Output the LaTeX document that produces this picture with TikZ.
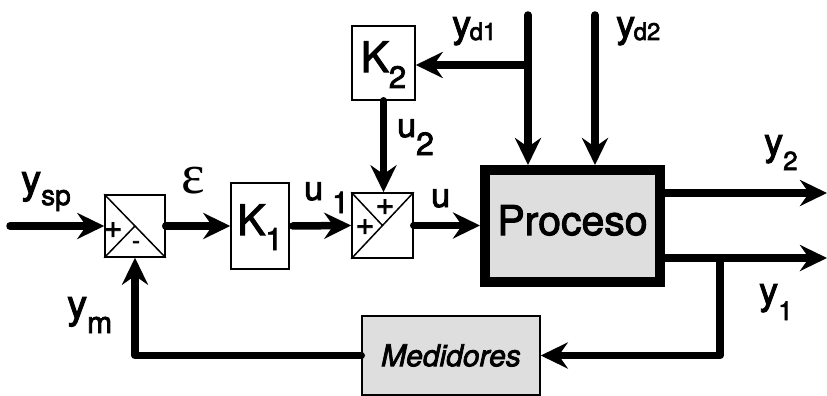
\documentclass[tikz,border=0pt]{standalone}
\usepackage{fontspec}
\setmainfont{TeX Gyre Heros}[FakeBold=2.5]
\newfontfamily\grk{Liberation Serif}
\usetikzlibrary{arrows.meta}
\newcommand\sbx[3]{\raisebox{-#1pt}[0pt][0pt]{\fontsize{#2}{#2}\selectfont #3}}
\newcommand\fs[1]{\fontsize{#1}{#1}\selectfont}
\definecolor{boxgray}{RGB}{222,222,222}
\begin{document}
\begin{tikzpicture}[x=1pt,y=-1pt,
  sig/.style={line width=7.5pt, line join=round, line cap=round,
    -{Stealth[length=27pt,width=26pt,inset=9pt]}},
  blk/.style={draw, line width=1.5pt, inner sep=0},
  thin/.style={line width=1.5pt},
  lbl/.style={inner sep=0, anchor=base west},
  sgn/.style={inner sep=0, font=\fs{32}},
]
\useasboundingbox (0,0) rectangle (827,396);

% blocks
\node[blk, minimum width=60pt, minimum height=62pt] (s1) at (135,226) {};
\draw[thin] (s1.north west) -- (s1.south east) (s1.south west) -- (s1.center);
\node[sgn] (s1p) at (113,230) {+};
\node[sgn, font=\fs{24}] (s1m) at (136,245) {-};

\node[blk, minimum width=61pt, minimum height=65pt] (s2) at (382.5,225.5) {};
\draw[thin] (s2.south west) -- (s2.north east) (s2.north west) -- (s2.center);
\node[sgn] (s2t) at (385,207) {+};
\node[sgn] (s2l) at (365,227) {+};

\node[blk, minimum width=58pt, minimum height=86pt, font=\fs{42},
  text height=30pt, text depth=12pt] (k1) at (260,226) {K\sbx{15}{31}{1}};
\node[blk, minimum width=63pt, minimum height=74pt, font=\fs{42},
  text height=30pt, text depth=12pt] (k2) at (383.5,63) {K\sbx{16}{31}{2}};

\node[draw, line width=10pt, fill=boxgray, minimum width=175pt, minimum height=112pt,
  inner sep=0, font=\fs{41}, text height=29pt, text depth=11pt] (proc) at (572.5,226) {Proceso};

\node[blk, fill=boxgray, minimum width=178pt, minimum height=79pt,
  font=\fs{30}\itshape] (med) at (451,355.5) {Medidores};

% coordinates
\coordinate (in0) at (10,226);
\coordinate (yd1s) at (528,15);
\coordinate (br1) at (528,65);
\coordinate (yd2s) at (595,15);
\coordinate (y2e) at (827,193);
\coordinate (y1e) at (827,258);
\coordinate (br2) at (720,258);

% connectors
\draw[sig] (in0) -- (s1.west);
\draw[sig] (s1.east) -- (k1.west);
\draw[sig, shorten <=3pt] (k1.east) -- (s2.west);
\draw[sig] (s2.east) -- (s2.east -| proc.west);
\draw[sig] (k2.south) -- (k2.south |- s2.north);
\draw[sig] (yd1s) -- (yd1s |- proc.north);
\draw[sig] (br1) -- (br1 -| k2.east);
\draw[sig] (yd2s) -- (yd2s |- proc.north);
\draw[sig] (proc.east |- y2e) -- (y2e);
\draw[sig] (proc.east |- y1e) -- (y1e);
\draw[sig] (br2) |- (med.east);
\draw[sig] (med.west) -| (s1.south);

% labels
\node[lbl, font=\fs{40}] (lsp) at (21,193) {y\sbx{12}{28}{sp}};
\node[lbl, font=\fs{56}\grk] (leps) at (181,193) {ε};
\node[lbl, font=\fs{34}] (lu1) at (304,200) {u\hspace{9pt}\sbx{13}{30}{1}};
\node[lbl, font=\fs{34}] (lu2) at (397,137) {u\sbx{18}{32}{2}};
\node[lbl, font=\fs{34}] (lu) at (431,207) {u};
\node[lbl, font=\fs{38}] (lyd1) at (452,37) {y\hspace{-1.5pt}\sbx{3}{24}{d1}};
\node[lbl, font=\fs{38}] (lyd2) at (616,37) {y\hspace{-1.5pt}\sbx{3}{24}{d2}};
\node[lbl, font=\fs{38}] (ly2) at (764,155) {y\sbx{15}{26}{2}};
\node[lbl, font=\fs{38}] (ly1) at (759,304) {y\sbx{16}{26}{1}};
\node[lbl, font=\fs{40}] (lym) at (67,318) {y\sbx{15}{30}{m}};
\end{tikzpicture}
\end{document}
